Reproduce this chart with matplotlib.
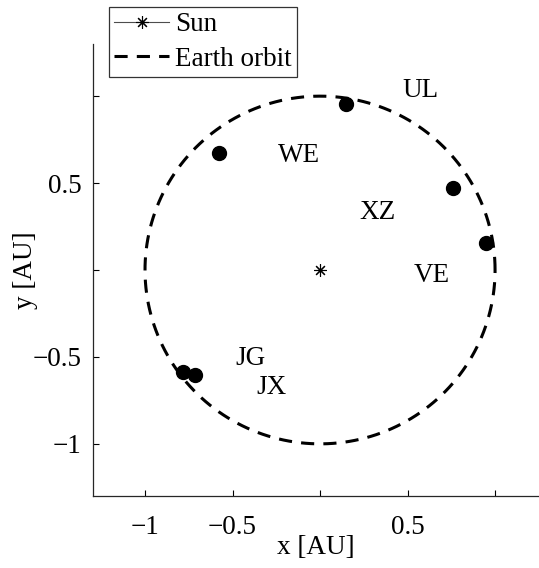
import matplotlib as mpl

mpl.use("Agg")

import matplotlib.pyplot as plt
import numpy as np

plt.rcParams["font.family"] = ["Liberation Serif", "DejaVu Serif"]
plt.rcParams["mathtext.fontset"] = "stix"

# object positions [AU]
obj_x = [0.149, -0.577, 0.760, 0.949, -0.783, -0.714]
obj_y = [0.954, 0.672, 0.471, 0.155, -0.586, -0.603]

# station labels and where they sit
label_names = ["UL", "WE", "XZ", "VE", "JG", "JX"]
label_x = [0.571, -0.12, 0.331, 0.64, -0.40, -0.28]
label_y = [1.034, 0.661, 0.333, -0.029, -0.511, -0.678]

sun_x, sun_y = 0.0, 0.0
orbit_radius = 1.0

xticks = [-1, -0.5, 0, 0.5, 1]
xtick_labels = ["\u22121", "\u22120.5", "", "0.5", ""]
yticks = [-1, -0.5, 0, 0.5, 1]
ytick_labels = ["\u22121", "\u22120.5", "", "0.5", ""]

fs = 19.5

fig = plt.figure(figsize=(5.39, 5.68), dpi=100)
ax = fig.add_axes([92.5 / 539, 72 / 568, 446.5 / 539, 452 / 568])

theta = np.linspace(0, 2 * np.pi, 400)
sun_line, = ax.plot([sun_x], [sun_y], color="0.3", lw=0.8, marker=(8, 2, 0),
                    markersize=9, markeredgewidth=0.8, markeredgecolor="black",
                    label="Sun")
orbit_line, = ax.plot(orbit_radius * np.cos(theta), orbit_radius * np.sin(theta),
                      color="black", lw=2.2, dashes=(4.3, 3.0), label="Earth orbit")
ax.plot(obj_x, obj_y, "o", color="black", markersize=10, linestyle="none")

for name, lx, ly in zip(label_names, label_x, label_y):
    ax.text(lx, ly, name, fontsize=fs, ha="center", va="center")

ax.set_xlim(-1.3, 1.251)
ax.set_ylim(-1.3, 1.3)
ax.set_xticks(xticks)
ax.set_xticklabels(xtick_labels)
ax.set_yticks(yticks)
ax.set_yticklabels(ytick_labels)
ax.tick_params(direction="in", length=4, width=0.8, labelsize=fs)
ax.tick_params(axis="x", pad=14)
ax.tick_params(axis="y", pad=8)
for side in ("top", "right"):
    ax.spines[side].set_visible(False)
for side in ("left", "bottom"):
    ax.spines[side].set_linewidth(0.9)
    ax.spines[side].set_color("0.15")

ax.set_xlabel("x [AU]", fontsize=fs, labelpad=-4)
ax.set_ylabel("y [AU]", fontsize=fs, labelpad=-4)

leg = fig.legend(handles=[sun_line, orbit_line], loc="upper left",
                 bbox_to_anchor=(109 / 539, 1 - 7 / 568),
                 fontsize=fs, frameon=True, fancybox=False,
                 edgecolor="black", handlelength=2.0, handletextpad=0.25,
                 borderpad=0.2, borderaxespad=0, labelspacing=0.35)
leg.get_frame().set_linewidth(0.9)

fig.savefig("out.png", dpi=100, facecolor="white")
